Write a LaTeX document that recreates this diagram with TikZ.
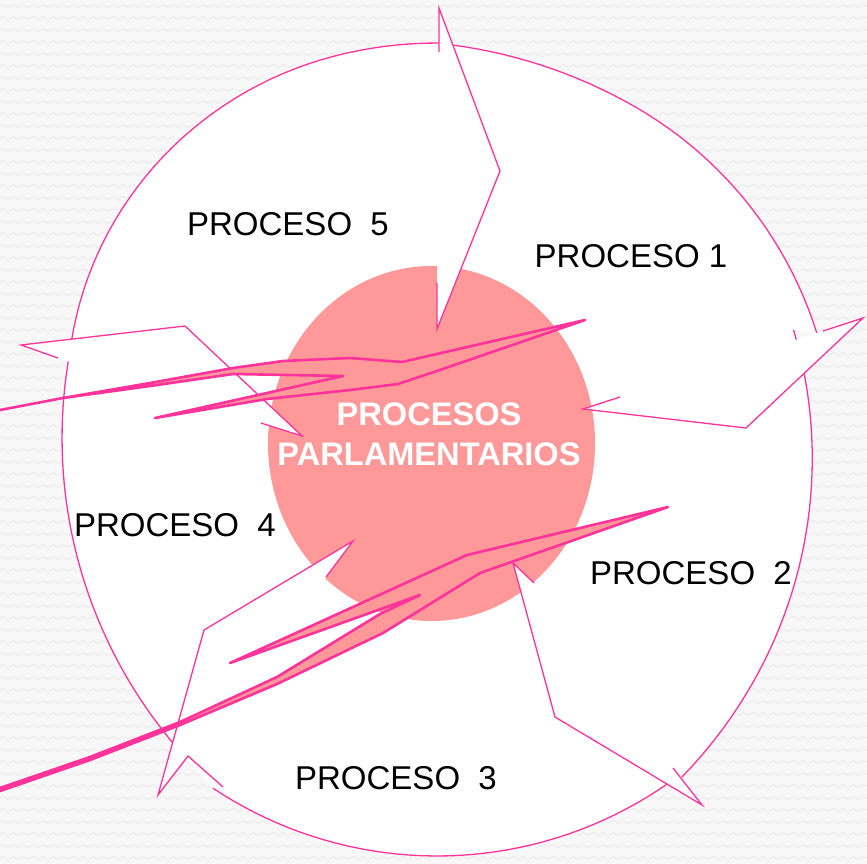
\documentclass[tikz,border=0pt]{standalone}
\usepackage{fontspec}
\setmainfont{Liberation Sans}
\usetikzlibrary{decorations.pathmorphing}
\definecolor{rosa}{RGB}{255,51,153}
\definecolor{salmon}{RGB}{255,153,153}
\definecolor{fondo}{RGB}{248,248,248}
\definecolor{onda}{RGB}{238,238,238}

\begin{document}
\begin{tikzpicture}[x=1pt,y=-1pt,
  declare function={
    ra(\t)=398+0.012*min(\t+60,0)*min(\t+60,0);
    rb(\t)=375+0.0095*(\t+5)*(\t+5);
    rd(\t)=374+0.012*(\t-172)*(\t-172);
    re(\t)=409-0.008*min(\t-255,0)*min(\t-255,0);
  },
  borde/.style={rosa, line width=1.3pt},
  rayo/.style={draw=rosa, fill=salmon, line width=2.6pt, line join=round},
  etiqueta/.style={anchor=base, inner sep=0pt, font=\fontsize{33}{40}\selectfont},
  titulo/.style={anchor=base, inner sep=0pt, text=white, font=\bfseries\fontsize{32.6}{40}\selectfont}]

\useasboundingbox (0,0) rectangle (867,864);
\fill[fondo] (0,0) rectangle (867,864);
\foreach \y in {6,18,...,858}
  \draw[onda, line width=1.2pt, decorate, decoration={snake, amplitude=1.5pt, segment length=10pt}] (0,\y) -- (867,\y);

\fill[white] plot[domain=-89.7:-17.4, samples=40, variable=\t] ({437+ra(\t)*cos(\t)}, {452+ra(\t)*sin(\t)})
  -- plot[domain=-18.9:53, samples=40, variable=\t] ({437+rb(\t)*cos(\t)}, {452+rb(\t)*sin(\t)})
  -- plot[domain=55.2:123.7, samples=40, variable=\t] ({437+404*cos(\t)}, {452+404*sin(\t)})
  -- plot[domain=131.4:195, samples=40, variable=\t] ({437+rd(\t)*cos(\t)}, {452+rd(\t)*sin(\t)})
  -- plot[domain=197:270.3, samples=40, variable=\t] ({437+re(\t)*cos(\t)}, {452+re(\t)*sin(\t)}) -- cycle;
\draw[borde] plot[domain=-89.7:-17.4, samples=40, variable=\t] ({437+ra(\t)*cos(\t)}, {452+ra(\t)*sin(\t)});
\draw[borde] plot[domain=-18.9:53, samples=40, variable=\t] ({437+rb(\t)*cos(\t)}, {452+rb(\t)*sin(\t)});
\draw[borde] plot[domain=55.2:123.7, samples=40, variable=\t] ({437+404*cos(\t)}, {452+404*sin(\t)});
\draw[borde] plot[domain=131.4:195, samples=40, variable=\t] ({437+rd(\t)*cos(\t)}, {452+rd(\t)*sin(\t)});
\draw[borde] plot[domain=197:270.3, samples=40, variable=\t] ({437+re(\t)*cos(\t)}, {452+re(\t)*sin(\t)});

\fill[salmon] (431.5,443.5) ellipse [x radius=163.5pt, y radius=177.5pt];

\fill[white] (439,52) -- (439,8) -- (500,171) -- (437,329) -- (437,283) -- cycle;
\draw[borde] (439,52) -- (439,8) -- (500,171) -- (437,329) -- (437,283);
\fill[white] (823,331) -- (863,318) -- (746,428) -- (583,409) -- (620,397) -- cycle;
\draw[borde] (823,331) -- (863,318) -- (746,428) -- (583,409) -- (620,397);
\fill[white] (673,768) -- (702,805) -- (555,717) -- (513,563) -- (534,583) -- cycle;
\draw[borde] (673,768) -- (702,805) -- (555,717) -- (513,563) -- (534,583);
\fill[white] (223,787) -- (188,756) -- (158,795) -- (204,630) -- (353,541) -- (326,577) -- cycle;
\draw[borde] (223,787) -- (188,756) -- (158,795) -- (204,630) -- (353,541) -- (326,577);
\fill[white] (58,358) -- (21,345) -- (185,326) -- (302,436) -- (261,423) -- cycle;
\draw[borde] (58,358) -- (21,345) -- (185,326) -- (302,436) -- (261,423);

\node[etiqueta] (proc5) at (288,235) {PROCESO~~5};
\node[etiqueta] (proc1) at (631,267) {PROCESO 1};
\node[etiqueta] (proc2) at (691,584) {PROCESO~~2};
\node[etiqueta] (proc3) at (396,789) {PROCESO~~3};
\node[etiqueta] (proc4) at (175,536) {PROCESO~~4};

\draw[rayo] (0,410) -- (63,398) -- (150,383) -- (233,368) -- (283,361) -- (350,358) -- (402,362) -- (585,320)
  -- (434,372) -- (398,384) -- (350,390) -- (267,399) -- (155,418) -- (343,376) -- (233,374) -- (150,386) -- (63,398) -- cycle;
\draw[rayo] (0,788) -- (90,757) -- (180,722) -- (277,677) -- (380,614) -- (420,595) -- (230,663) -- (467,555) -- (668,507)
  -- (480,573) -- (383,633) -- (277,684) -- (180,725) -- (90,760) -- (0,791) -- cycle;

\node[titulo] (tit1) at (429,425) {PROCESOS};
\node[titulo] (tit2) at (429,465) {PARLAMENTARIOS};
\end{tikzpicture}
\end{document}
